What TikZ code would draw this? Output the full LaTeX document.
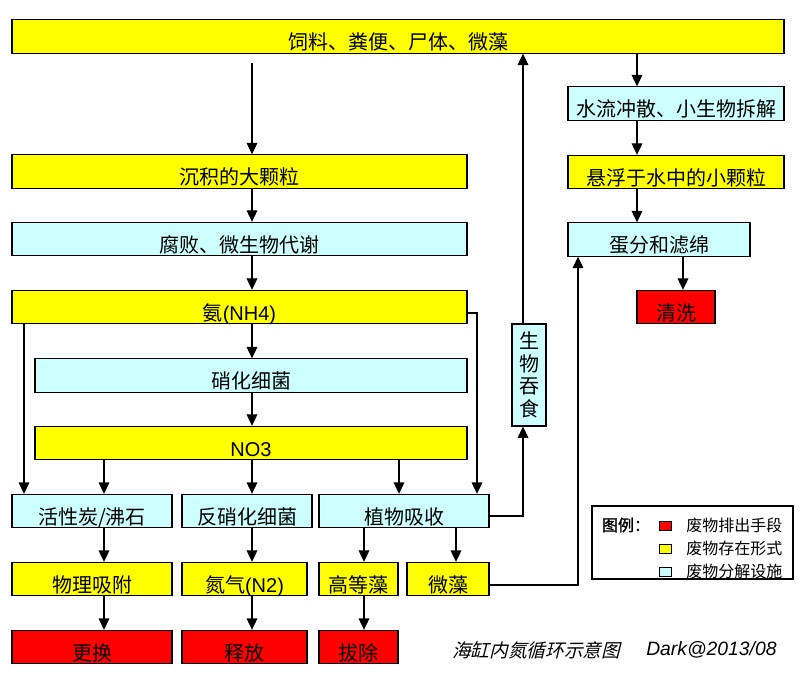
\documentclass[tikz,border=0pt]{standalone}
\usepackage{fontspec}
\setmainfont{Liberation Sans}
\newfontfamily\cjk{Noto Sans CJK SC}
\newfontfamily\cjkbold[FakeBold=1.5]{Noto Sans CJK SC}
\newfontfamily\cjkslant[FakeSlant=0.25]{Noto Sans CJK SC}
\usetikzlibrary{arrows.meta, positioning, calc}
\definecolor{boxyellow}{RGB}{255,255,0}
\definecolor{boxcyan}{RGB}{204,255,255}
\definecolor{boxred}{RGB}{255,0,0}
\tikzset{
  ylwblock/.style={rectangle, draw=black, fill=boxyellow, inner sep=0pt,
    minimum height=25pt, text height=20pt, text depth=0.4pt,
    font=\cjk\fontsize{15}{18}\selectfont, line width=0.8pt},
  cyanblock/.style={rectangle, draw=black, fill=boxcyan, inner sep=0pt,
    minimum height=25pt, text height=20pt, text depth=0.4pt,
    font=\cjk\fontsize{15}{18}\selectfont, line width=0.8pt},
  redblock/.style={rectangle, draw=black, fill=boxred, inner sep=0pt,
    minimum height=25pt, text height=20pt, text depth=0.4pt,
    font=\cjk\fontsize{15}{18}\selectfont, line width=0.8pt},
  keybox/.style={rectangle, draw=black, inner sep=0pt,
    minimum width=9pt, minimum height=6.75pt, line width=0.6pt},
  keytext/.style={anchor=west, inner sep=0pt, font=\cjk\fontsize{12}{14}\selectfont},
  arrow/.style={-{Triangle[length=8.5pt,width=8pt]}, line width=0.8pt, color=black},
  line/.style={line width=0.8pt, color=black}
}
\begin{document}
\begin{tikzpicture}[x=0.75pt, y=-0.75pt]
  \fill[white] (0,0) rectangle (804,688);
  \useasboundingbox (0,0) rectangle (804,688);

  % top row
  \node[ylwblock, minimum width=579pt] (feed) at (398,36.5) {饲料、粪便、尸体、微藻};

  % right column
  \node[cyanblock, minimum width=162pt] (wash) at (676,103.5) {水流冲散、小生物拆解};
  \node[ylwblock, minimum width=162pt] (susp) at (676,172) {悬浮于水中的小颗粒};
  \node[cyanblock, minimum width=136.5pt] (skim) at (659,239.5) {蛋分和滤绵};
  \node[redblock, minimum width=58.5pt] (clean) at (676,307) {清洗};

  % left column
  \node[ylwblock, minimum width=341.25pt] (sed) at (239.5,171.5) {沉积的大颗粒};
  \node[cyanblock, minimum width=341.25pt] (rot) at (239.5,239) {腐败、微生物代谢};
  \node[ylwblock, minimum width=341.25pt] (nh) at (239.5,307) {氨{\rmfamily(NH4)}};
  \node[cyanblock, minimum width=324pt] (nitr) at (251,375.5) {硝化细菌};
  \node[ylwblock, minimum width=324pt, font=\rmfamily\fontsize{15}{18}\selectfont] (nothree) at (251,443) {NO3};

  % bottom rows
  \node[cyanblock, minimum width=120pt] (carbon) at (92,511) {活性炭/沸石};
  \node[cyanblock, minimum width=97.5pt] (denit) at (247,511) {反硝化细菌};
  \node[cyanblock, minimum width=127.5pt] (plant) at (404,511) {植物吸收};
  \node[ylwblock, minimum width=120pt] (phys) at (92,579) {物理吸附};
  \node[ylwblock, minimum width=93.75pt] (ntwo) at (244.5,579) {氮气{\rmfamily(N2)}};
  \node[ylwblock, minimum width=59.25pt] (high) at (358.5,579) {高等藻};
  \node[ylwblock, minimum width=61.5pt] (micro) at (448,579) {微藻};
  \node[redblock, minimum width=120pt] (change) at (92,647) {更换};
  \node[redblock, minimum width=93.75pt] (release) at (244.5,647) {释放};
  \node[redblock, minimum width=59.25pt] (pull) at (358.5,647) {拔除};

  % vertical box
  \node[cyanblock, minimum width=25.5pt, minimum height=76.5pt, text height=, text depth=,
    align=center, font=\cjk\fontsize{15}{17}\selectfont] (eat) at (529,375) {生\\物\\吞\\食};

  % helper coordinates
  \coordinate (colmain) at (252,0);
  \coordinate (colright) at (637,0);
  \coordinate (colclean) at (683,0);
  \coordinate (feedout) at (252,63);
  \coordinate (nhleft) at (24,0);
  \coordinate (nhright) at (477,313);
  \coordinate (eatcol) at (523,516);
  \coordinate (skimcol) at (578,585);

  % Arrows
  \draw[arrow] (feedout) -- (feedout |- sed.north);
  \foreach \src/\tgt in {sed/rot, rot/nh, nh/nitr, nitr/nothree}
    \draw[arrow] (colmain |- \src.south) -- (colmain |- \tgt.north);
  \foreach \src/\tgt in {feed/wash, wash/susp, susp/skim}
    \draw[arrow] (colright |- \src.south) -- (colright |- \tgt.north);
  \draw[arrow] (colclean |- skim.south) -- (colclean |- clean.north);

  \draw[arrow] (nhleft |- nh.south) -- (nhleft |- carbon.north);
  \draw[arrow] (nh.east |- nhright) -- (nhright) -- (nhright |- plant.north);

  \foreach \tx/\tgt in {104/carbon, 252/denit, 399/plant}
    \draw[arrow] (\tx,0 |- nothree.south) -- (\tx,0 |- \tgt.north);
  \foreach \tx/\src/\tgt in {104/carbon/phys, 104/phys/change, 252/denit/ntwo,
      252/ntwo/release, 364/plant/high, 364/high/pull, 456/plant/micro}
    \draw[arrow] (\tx,0 |- \src.south) -- (\tx,0 |- \tgt.north);

  \draw[arrow] (plant.east |- eatcol) -- (eatcol) -- (eatcol |- eat.south);
  \draw[arrow] (eatcol |- eat.north) -- (eatcol |- feed.south);
  \draw[arrow] (micro.east |- skimcol) -- (skimcol) -- (skimcol |- skim.south);

  % legend
  \node[rectangle, draw=black, line width=0.8pt, minimum width=150.75pt,
    minimum height=54.75pt, inner sep=0pt] (legend) at (692.5,542.5) {};
  \node[inner sep=0pt, font=\cjkbold\fontsize{12}{14}\selectfont] (legendhead) at (626,525) {图例：};
  \node[keybox, fill=boxred] (keyred) at (665,525.5) {};
  \node[keybox, fill=boxyellow] (keyyellow) at (665,548.5) {};
  \node[keybox, fill=boxcyan] (keycyan) at (665,571.5) {};
  \node[keytext] (keyredtext) at (686,525) {废物排出手段};
  \node[keytext] (keyyellowtext) at (686,548) {废物存在形式};
  \node[keytext] (keycyantext) at (686,571) {废物分解设施};

  % caption
  \node[anchor=west, inner sep=0pt, font=\cjkslant\fontsize{14}{16}\selectfont] (caption) at (452,650) {海缸内氮循环示意图};
  \node[anchor=west, inner sep=0pt, font=\itshape\fontsize{14.5}{16}\selectfont] (credit) at (646,650) {Dark@2013/08};
\end{tikzpicture}
\end{document}
